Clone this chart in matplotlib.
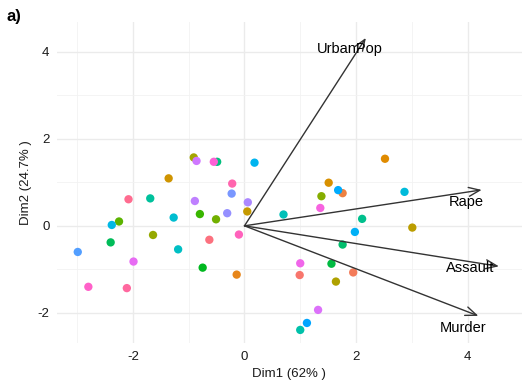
import numpy as np
import matplotlib
matplotlib.use("Agg")
import matplotlib.pyplot as plt
from matplotlib.ticker import MultipleLocator

plt.rcParams['font.family'] = ['Liberation Sans', 'DejaVu Sans']
plt.rcParams['axes.unicode_minus'] = False

# individuals (states), coordinates
states = ["Alabama", "Alaska", "Arizona", "Arkansas", "California", "Colorado",
          "Connecticut", "Delaware", "Florida", "Georgia", "Hawaii", "Idaho",
          "Illinois", "Indiana", "Iowa", "Kansas", "Kentucky", "Louisiana",
          "Maine", "Maryland", "Massachusetts", "Michigan", "Minnesota",
          "Mississippi", "Missouri", "Montana", "Nebraska", "Nevada",
          "New Hampshire", "New Jersey", "New Mexico", "New York",
          "North Carolina", "North Dakota", "Ohio", "Oklahoma", "Oregon",
          "Pennsylvania", "Rhode Island", "South Carolina", "South Dakota",
          "Tennessee", "Texas", "Utah", "Vermont", "Virginia", "Washington",
          "West Virginia", "Wisconsin", "Wyoming"]
dim1 = [0.99, 1.95, 1.76, -0.14, 2.52, 1.51, -1.36, 0.05, 3.01, 1.64,
        -0.91, -1.64, 1.38, -0.51, -2.25, -0.80, -0.75, 1.56, -2.40, 1.76,
        -0.49, 2.11, -1.69, 1.00, 0.70, -1.19, -1.27, 2.87, -2.38, 0.18,
        1.98, 1.68, 1.12, -2.99, -0.23, -0.31, 0.06, -0.89, -0.86, 1.32,
        -1.99, 1.00, 1.36, -0.55, -2.80, -0.10, -0.22, -2.11, -2.08, -0.63]
dim2 = [-1.13, -1.07, 0.75, -1.12, 1.54, 0.99, 1.09, 0.33, -0.04, -1.28,
        1.57, -0.21, 0.68, 0.15, 0.10, 0.27, -0.96, -0.87, -0.38, -0.43,
        1.47, 0.16, 0.63, -2.39, 0.26, -0.54, 0.19, 0.78, 0.02, 1.45,
        -0.14, 0.82, -2.23, -0.60, 0.74, 0.29, 0.54, 0.57, 1.49, -1.93,
        -0.82, -0.86, 0.41, 1.47, -1.40, -0.20, 0.97, -1.43, 0.61, -0.32]

# variables (correlation circle coordinates)
variables = ["Murder", "Assault", "UrbanPop", "Rape"]
var_x = [0.844, 0.918, 0.438, 0.856]
var_y = [-0.416, -0.187, 0.868, 0.166]
ARROW_SCALE = 4.97


def hue_pal(n, c=100.0, l=65.0):
    # ggplot2 default discrete palette (polar LUV -> sRGB)
    hues = np.linspace(15, 375, n + 1)[:n]
    xn, yn, zn = 95.047, 100.0, 108.883
    un = 4 * xn / (xn + 15 * yn + 3 * zn)
    vn = 9 * yn / (xn + 15 * yn + 3 * zn)
    out = []
    for h in hues:
        hr = np.deg2rad(h)
        u, v = c * np.cos(hr), c * np.sin(hr)
        y = yn * (((l + 16) / 116) ** 3 if l > 8 else l / 903.3)
        up = u / (13 * l) + un
        vp = v / (13 * l) + vn
        x = 9.0 * y * up / (4 * vp)
        z = -x / 3 - 5 * y + 3 * y / vp
        x, y, z = x / 100, y / 100, z / 100
        rgb = [3.240479 * x - 1.537150 * y - 0.498535 * z,
               -0.969256 * x + 1.875992 * y + 0.041556 * z,
               0.055648 * x - 0.204043 * y + 1.057311 * z]
        res = []
        for t in rgb:
            t = 1.055 * t ** (1 / 2.4) - 0.055 if t > 0.00304 else 12.92 * t
            res.append(min(max(t, 0), 1))
        out.append(tuple(res))
    return out


colors = hue_pal(len(states))

fig = plt.figure(figsize=(5.29, 3.87), dpi=100)
ax = fig.add_axes([0.108, 0.1137, 0.878, 0.8295])

ax.scatter(dim1, dim2, s=36, c=colors, linewidths=0, zorder=3)

# label offsets in points (dx, dy)
label_off = {"Murder": (-11, -9), "Assault": (-21, -1),
             "UrbanPop": (-11.5, -8), "Rape": (-11, -8.5)}
for name, vx, vy in zip(variables, var_x, var_y):
    tx, ty = vx * ARROW_SCALE, vy * ARROW_SCALE
    ax.annotate("", xy=(tx, ty), xytext=(0, 0),
                arrowprops=dict(arrowstyle="->,head_length=0.8,head_width=0.32",
                                color="#333333", lw=1.0, shrinkA=0, shrinkB=0,
                                mutation_scale=10),
                zorder=4)
    dx, dy = label_off[name]
    ax.annotate(name, xy=(tx, ty), xytext=(dx, dy), textcoords="offset points",
                ha="center", va="center", fontsize=10.5, color="black", zorder=5)

ax.set_xlim(-3.36, 4.97)
ax.set_ylim(-2.69, 4.68)
ax.xaxis.set_major_locator(MultipleLocator(2))
ax.yaxis.set_major_locator(MultipleLocator(2))
ax.xaxis.set_minor_locator(MultipleLocator(1))
ax.yaxis.set_minor_locator(MultipleLocator(1))
ax.grid(which="major", color="#ebebeb", linewidth=1.0, zorder=0)
ax.grid(which="minor", color="#f2f2f2", linewidth=0.6, zorder=0)
ax.set_axisbelow(True)
for sp in ax.spines.values():
    sp.set_visible(False)
ax.tick_params(which="both", length=0, labelsize=9.5, labelcolor="#1a1a1a", pad=5.5)

ax.set_xlabel("Dim1 (62% )", fontsize=9.5, color="#1a1a1a", labelpad=4)
ax.set_ylabel("Dim2 (24.7% )", fontsize=9.5, color="#1a1a1a", labelpad=4)

fig.text(0.013, 0.958, "a)", fontsize=12, fontweight="bold", ha="left", va="center")

fig.savefig("out.png", dpi=100, facecolor="white")
